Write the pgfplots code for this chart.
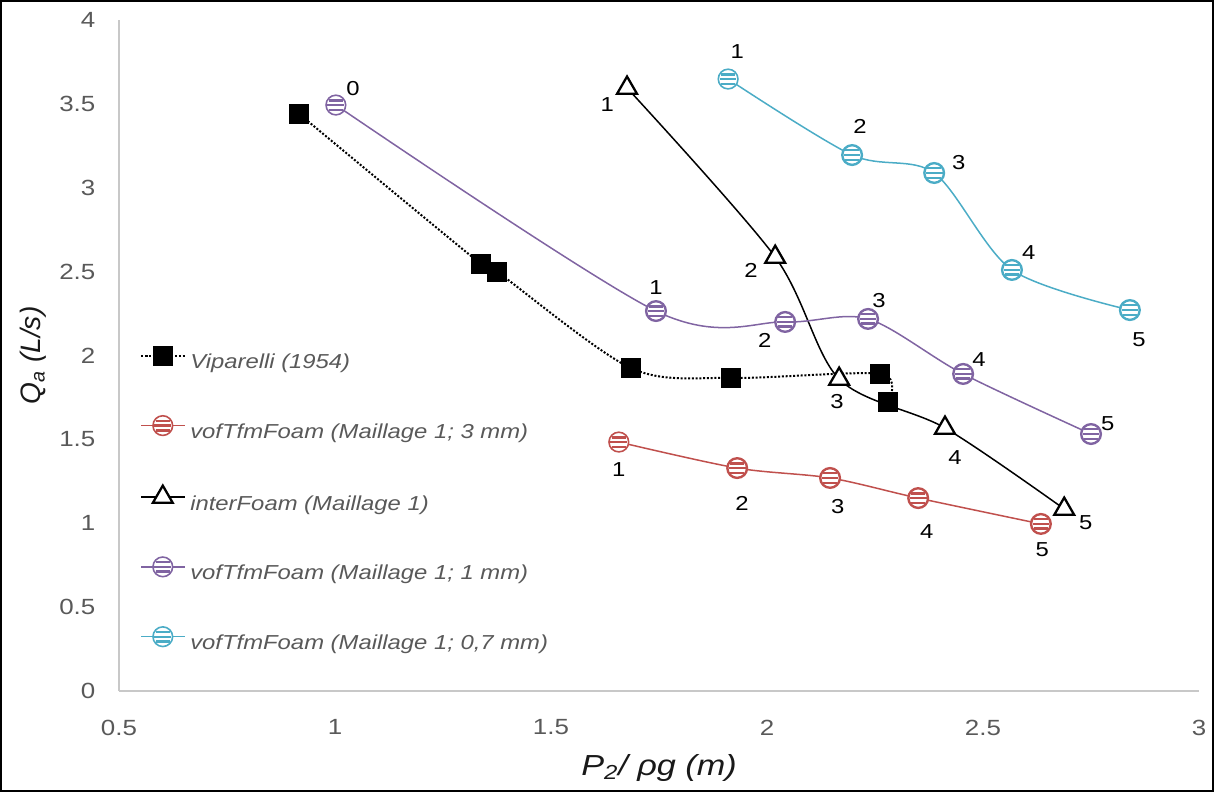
\documentclass[border=0pt]{standalone}
\usepackage{fontspec}
\setmainfont{Liberation Sans}
\newfontfamily\wfont{Liberation Sans}[FakeStretch=1.18]
\usepackage{pgfplots}
\pgfplotsset{compat=1.18}
\definecolor{tickgray}{HTML}{595959}
\definecolor{axgray}{HTML}{C8C8C8}
\definecolor{cred}{HTML}{C0504D}
\definecolor{cpurple}{HTML}{8064A2}
\definecolor{ccyan}{HTML}{4BACC6}
\tikzset{lbl/.style={font=\wfont\fontsize{11.5}{13}\selectfont, text=black, inner sep=0pt, anchor=center}}

\pgfdeclareplotmark{scirc}{%
  \pgfpathcircle{\pgfpointorigin}{\pgfplotmarksize}%
  \pgfusepathqfillstroke
  \pgfsetbuttcap
  \pgfsetlinewidth{0.24\pgfplotmarksize}%
  \pgfpathmoveto{\pgfpoint{-0.85\pgfplotmarksize}{0pt}}\pgfpathlineto{\pgfpoint{0.85\pgfplotmarksize}{0pt}}%
  \pgfpathmoveto{\pgfpoint{-0.72\pgfplotmarksize}{0.48\pgfplotmarksize}}\pgfpathlineto{\pgfpoint{0.72\pgfplotmarksize}{0.48\pgfplotmarksize}}%
  \pgfpathmoveto{\pgfpoint{-0.72\pgfplotmarksize}{-0.48\pgfplotmarksize}}\pgfpathlineto{\pgfpoint{0.72\pgfplotmarksize}{-0.48\pgfplotmarksize}}%
  \pgfusepathqstroke
}

\begin{document}
\begin{tikzpicture}
\begin{axis}[name=ax, at={(0,0)}, anchor=south west,
  scale only axis, width=21.6cm, height=13.42cm,
  xmin=0.5, xmax=3, ymin=0, ymax=4,
  xtick={0.5,1,1.5,2,2.5,3}, ytick={0,0.5,1,1.5,2,2.5,3,3.5,4},
  axis x line*=bottom, axis y line*=left,
  axis line style={draw=axgray, line width=0.03cm, -},
  major tick length=0pt,
  tick label style={font=\wfont\fontsize{12.5}{14}\selectfont, text=tickgray},
  /pgf/number format/assume math mode=true,
  xticklabel style={yshift=-0.45cm},
  yticklabel style={xshift=-0.35cm},
  xlabel={\itshape P\textsubscript{2}/ ρg (m)},
  ylabel={\itshape Q\textsubscript{a} (L/s)},
  xlabel style={at={(axis description cs:0.5,-0.1252)}, anchor=base, font=\wfont\fontsize{16.5}{19}\selectfont, text=black!90},
  ylabel style={at={(axis description cs:-0.0731,0.5)}, anchor=base, font=\fontsize{16}{19}\selectfont, text=black!90},
  clip=false,
  legend style={at={(axis description cs:0.0194,0.5135)}, anchor=north west, draw=none, fill=none,
    inner sep=0pt, row sep=0.84cm, column sep=0pt,
    font=\wfont\fontsize{11.5}{14}\selectfont\itshape,
    nodes={inner sep=0pt, text height=0.32cm, text depth=0.1cm, text=tickgray},
    /tikz/every odd column/.append style={column sep=0.1cm}},
  legend cell align=left,
  legend image code/.code={\draw[mark repeat=2,mark phase=2] plot coordinates {(0cm,0.15cm) (0.43cm,0.15cm) (0.86cm,0.15cm)};},
]
% Viparelli (1954)
\addplot[black, densely dotted, line width=0.04cm, smooth, mark=square*, mark size=5.1pt, mark options={solid, fill=black}]
  coordinates {(0.917,3.44) (1.338,2.545) (1.375,2.50) (1.685,1.925) (1.917,1.866) (2.262,1.89) (2.28,1.723)};
\addlegendentry{Viparelli (1954)}
% vofTfmFoam 3 mm
\addplot[cred, line width=0.03cm, smooth, mark=scirc, mark size=5.6pt, mark options={fill=white, line width=0.9pt}]
  coordinates {(1.657,1.484) (1.931,1.329) (2.146,1.27) (2.35,1.15) (2.634,0.996)};
\addlegendentry{vofTfmFoam (Maillage 1; 3 mm)}
% interFoam
\addplot[black, line width=0.03cm, smooth, mark=triangle*, mark size=6.5pt, mark options={fill=white, line width=1.3pt}]
  coordinates {(1.676,3.595) (2.019,2.587) (2.167,1.86) (2.412,1.568) (2.688,1.085)};
\addlegendentry{interFoam (Maillage 1)}
% vofTfmFoam 1 mm
\addplot[cpurple, line width=0.03cm, smooth, mark=scirc, mark size=5.6pt, mark options={fill=white, line width=0.9pt}]
  coordinates {(1.002,3.493) (1.743,2.265) (2.042,2.2) (2.234,2.218) (2.454,1.89) (2.75,1.532)};
\addlegendentry{vofTfmFoam (Maillage 1; 1 mm)}
% vofTfmFoam 0.7 mm
\addplot[ccyan, line width=0.03cm, smooth, mark=scirc, mark size=5.6pt, mark options={fill=white, line width=0.9pt}]
  coordinates {(1.91,3.648) (2.197,3.195) (2.387,3.088) (2.567,2.51) (2.84,2.271)};
\addlegendentry{vofTfmFoam (Maillage 1; 0,7 mm)}

% data labels
\node[lbl] at (axis cs:1.0417,3.589) {0};
\node[lbl] at (axis cs:1.743,2.408) {1};
\node[lbl] at (axis cs:1.995,2.092) {2};
\node[lbl] at (axis cs:2.259,2.325) {3};
\node[lbl] at (axis cs:2.491,1.973) {4};
\node[lbl] at (axis cs:2.789,1.592) {5};

\node[lbl] at (axis cs:1.931,3.809) {1};
\node[lbl] at (axis cs:2.215,3.368) {2};
\node[lbl] at (axis cs:2.444,3.148) {3};
\node[lbl] at (axis cs:2.606,2.611) {4};
\node[lbl] at (axis cs:2.861,2.092) {5};

\node[lbl] at (axis cs:1.630,3.493) {1};
\node[lbl] at (axis cs:1.963,2.510) {2};
\node[lbl] at (axis cs:2.162,1.723) {3};
\node[lbl] at (axis cs:2.435,1.389) {4};
\node[lbl] at (axis cs:2.738,1.0015) {5};

\node[lbl] at (axis cs:1.657,1.323) {1};
\node[lbl] at (axis cs:1.942,1.121) {2};
\node[lbl] at (axis cs:2.164,1.097) {3};
\node[lbl] at (axis cs:2.370,0.948) {4};
\node[lbl] at (axis cs:2.637,0.841) {5};
\end{axis}
\draw[black, line width=0.04cm] ([shift={(-2.36cm,-2.00cm)}]ax.south west) rectangle ([shift={(21.88cm,13.80cm)}]ax.south west);
\pgfresetboundingbox
\path ([shift={(-2.38cm,-2.02cm)}]ax.south west) rectangle ([shift={(21.9cm,13.82cm)}]ax.south west);
\end{tikzpicture}
\end{document}
